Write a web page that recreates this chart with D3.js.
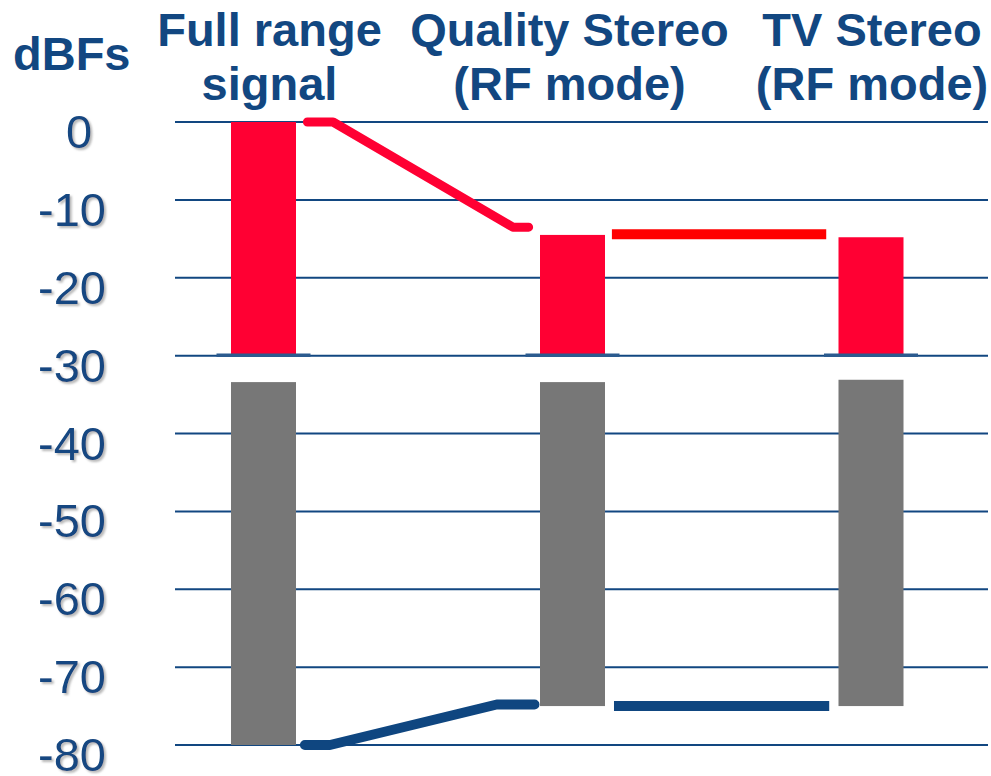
<!DOCTYPE html>
<html>
<head>
<meta charset="utf-8">
<script src="https://cdn.jsdelivr.net/npm/d3@7"></script>
<style>
  body { margin: 0; background: #fff; }
  text { font-family: "Liberation Sans", Arial, sans-serif; }
</style>
</head>
<body>
<div id="chart"></div>
<script>
// categories (title lines) and values, in dBFs
const categories = ["Full range signal", "Quality Stereo (RF mode)", "TV Stereo (RF mode)"];
const titleLines = [["Full range", "signal"], ["Quality Stereo", "(RF mode)"], ["TV Stereo", "(RF mode)"]];
const signalTop = [0, -14.5, -14.8];
const signalBottom = [-30, -30, -30];
const noiseTop = [-33.4, -33.4, -33.1];
const noiseBottom = [-80, -75, -75];
const yTicks = [0, -10, -20, -30, -40, -50, -60, -70, -80];

// connector lines, x in category units (0 = first bar centre)
const headroomX = [0.142, 0.225, 0.807, 0.858];
const headroomY = [0, 0, -13.5, -13.5];
const headroomLevelX = [1.132, 1.85];
const headroomLevelY = [-14.4, -14.4];
const noiseLineX = [0.134, 0.215, 0.755, 0.877];
const noiseLineY = [-80, -80, -74.8, -74.8];
const noiseLevelX = [1.139, 1.86];
const noiseLevelY = [-75, -75];

const width = 991, height = 776;
const blue = "#124781";

const svg = d3.select("#chart")
    .append("svg")
    .attr("width", width)
    .attr("height", height);

const defs = svg.append("defs");
defs.append("filter")
    .attr("id", "shadow")
    .attr("x", "-20%").attr("y", "-20%")
    .attr("width", "140%").attr("height", "140%")
    .append("feDropShadow")
    .attr("dx", 2).attr("dy", 2)
    .attr("stdDeviation", 0.8)
    .attr("flood-color", "#999")
    .attr("flood-opacity", 0.7);

const y = d3.scaleLinear()
    .domain([0, -80])
    .range([122, 745]);

// bar centres are not evenly spaced in the original
const x = d3.scaleLinear()
    .domain([0, 1, 2])
    .range([263.5, 572.5, 871]);

const barWidth = 65;

// grid lines
svg.append("g")
    .selectAll("line")
    .data(yTicks)
    .join("line")
    .attr("x1", 175)
    .attr("x2", 988)
    .attr("y1", d => y(d))
    .attr("y2", d => y(d))
    .attr("stroke", blue)
    .attr("stroke-width", 2);

// y labels
svg.append("g")
    .selectAll("text")
    .data(yTicks)
    .join("text")
    .attr("x", d => d === 0 ? 79 : 72)
    .attr("y", d => y(d) + 26)
    .attr("text-anchor", "middle")
    .attr("font-size", 47)
    .attr("fill", blue)
    .attr("filter", "url(#shadow)")
    .text(d => d);

svg.append("text")
    .attr("x", 13)
    .attr("y", 70)
    .attr("font-size", 47)
    .attr("font-weight", "bold")
    .attr("fill", blue)
    .text("dBFs");

// titles
const titleShift = [6, -3, 1];
titleLines.forEach((lines, i) => {
    svg.append("text")
        .attr("text-anchor", "middle")
        .attr("x", x(i) + titleShift[i])
        .attr("font-size", 47)
        .attr("font-weight", "bold")
        .attr("fill", blue)
        .selectAll("tspan")
        .data(lines)
        .join("tspan")
        .attr("x", x(i) + titleShift[i])
        .attr("y", (d, j) => 46 + j * 54)
        .text(d => d);
});

// signal bars (red)
svg.append("g")
    .selectAll("rect")
    .data(categories)
    .join("rect")
    .attr("x", (d, i) => x(i) - barWidth / 2)
    .attr("y", (d, i) => y(signalTop[i]))
    .attr("width", barWidth)
    .attr("height", (d, i) => y(signalBottom[i]) - y(signalTop[i]))
    .attr("fill", "#ff0033");

// base marks under the red bars
svg.append("g")
    .selectAll("line")
    .data(categories)
    .join("line")
    .attr("x1", (d, i) => x(i) - 47)
    .attr("x2", (d, i) => x(i) + 47)
    .attr("y1", (d, i) => y(signalBottom[i]) - 0.5)
    .attr("y2", (d, i) => y(signalBottom[i]) - 0.5)
    .attr("stroke", "#2b5b8f")
    .attr("stroke-width", 3.5);

// noise bars (gray)
svg.append("g")
    .selectAll("rect")
    .data(categories)
    .join("rect")
    .attr("x", (d, i) => x(i) - barWidth / 2)
    .attr("y", (d, i) => y(noiseTop[i]))
    .attr("width", barWidth)
    .attr("height", (d, i) => y(noiseBottom[i]) - y(noiseTop[i]))
    .attr("fill", "#777777");

const line = d3.line()
    .x(d => x(d[0]))
    .y(d => y(d[1]));

function drawLine(xs, ys, color, w, cap) {
    svg.append("path")
        .datum(xs.map((v, i) => [v, ys[i]]))
        .attr("d", line)
        .attr("fill", "none")
        .attr("stroke", color)
        .attr("stroke-width", w)
        .attr("stroke-linecap", cap)
        .attr("stroke-linejoin", "round");
}

drawLine(headroomX, headroomY, "#ff0033", 9, "round");
drawLine(headroomLevelX, headroomLevelY, "#ff0000", 10, "butt");
drawLine(noiseLineX, noiseLineY, "#0f4680", 10, "round");
drawLine(noiseLevelX, noiseLevelY, "#0f4680", 10, "butt");
</script>
</body>
</html>
